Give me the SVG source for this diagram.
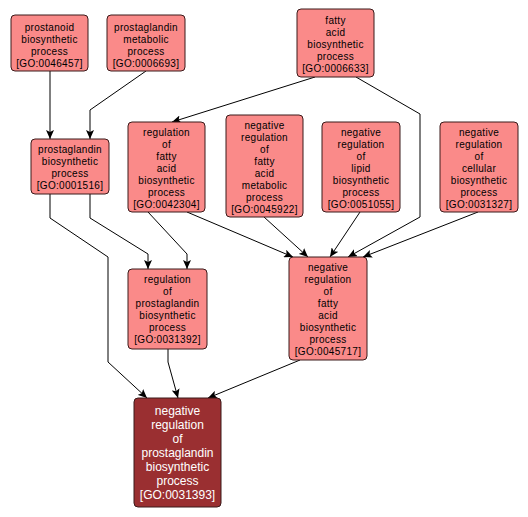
<svg xmlns="http://www.w3.org/2000/svg" width="528" height="517" viewBox="0 0 528 517">
<style>
.n rect{fill:#FA8A89;stroke:#3a1a1a;stroke-width:1}
.n text{font-family:"Liberation Sans",Arial,sans-serif;font-size:10px;letter-spacing:0.3px;fill:#000;text-anchor:middle}
.k rect{fill:#9A2F31;stroke:#3a1a1a;stroke-width:1}
.k text{font-family:"Liberation Sans",Arial,sans-serif;font-size:12px;fill:#fff;text-anchor:middle}
.e path{fill:none;stroke:#000;stroke-width:1;marker-end:url(#ah)}
</style>
<defs>
<marker id="ah" markerUnits="userSpaceOnUse" markerWidth="10" markerHeight="8" refX="9" refY="4" orient="auto">
<path d="M0,0 L9,4 L0,8 L2,4 z" fill="#000"/>
</marker>
</defs>
<rect width="528" height="517" fill="#fff"/>
<g id="edges" class="e">
<path d="M50,71 L50,139"/>
<path d="M146,71 L90,110 L90,139"/>
<path d="M315,77 L172,122"/>
<path d="M356,77 L420,114 L420,217 L348,257"/>
<path d="M50,194 L50,218 L108,257 L108,362 L147,398"/>
<path d="M90,194 L90,218 L148,254 L148,269"/>
<path d="M148,212 L187,254 L187,269"/>
<path d="M187,212 L293,257"/>
<path d="M264,217 L308,257"/>
<path d="M360,212 L330,257"/>
<path d="M478,212 L363,257"/>
<path d="M168,349 L168,362 L178,398"/>
<path d="M300,360 L208,398"/>
</g>
<g id="GO0046457" class="n"><rect x="11" y="15" width="77" height="56" rx="4"/>
<text x="49.5" y="31">prostanoid</text><text x="49.5" y="43">biosynthetic</text><text x="49.5" y="55">process</text><text x="49.5" y="67">[GO:0046457]</text></g>
<g id="GO0006693" class="n"><rect x="107" y="15" width="78" height="56" rx="4"/>
<text x="146" y="31">prostaglandin</text><text x="146" y="43">metabolic</text><text x="146" y="55">process</text><text x="146" y="67">[GO:0006693]</text></g>
<g id="GO0006633" class="n"><rect x="297" y="9" width="77" height="68" rx="4"/>
<text x="335.5" y="24">fatty</text><text x="335.5" y="36">acid</text><text x="335.5" y="48">biosynthetic</text><text x="335.5" y="60">process</text><text x="335.5" y="72">[GO:0006633]</text></g>
<g id="GO0001516" class="n"><rect x="31" y="139" width="78" height="55" rx="4"/>
<text x="70" y="153">prostaglandin</text><text x="70" y="165">biosynthetic</text><text x="70" y="177">process</text><text x="70" y="189">[GO:0001516]</text></g>
<g id="GO0042304" class="n"><rect x="128" y="122" width="77" height="90" rx="4"/>
<text x="166.5" y="136">regulation</text><text x="166.5" y="148">of</text><text x="166.5" y="160">fatty</text><text x="166.5" y="172">acid</text><text x="166.5" y="184">biosynthetic</text><text x="166.5" y="196">process</text><text x="166.5" y="208">[GO:0042304]</text></g>
<g id="GO0045922" class="n"><rect x="226" y="115" width="77" height="102" rx="4"/>
<text x="264.5" y="129">negative</text><text x="264.5" y="141">regulation</text><text x="264.5" y="153">of</text><text x="264.5" y="165">fatty</text><text x="264.5" y="177">acid</text><text x="264.5" y="189">metabolic</text><text x="264.5" y="201">process</text><text x="264.5" y="213">[GO:0045922]</text></g>
<g id="GO0051055" class="n"><rect x="322" y="122" width="78" height="90" rx="4"/>
<text x="361" y="136">negative</text><text x="361" y="148">regulation</text><text x="361" y="160">of</text><text x="361" y="172">lipid</text><text x="361" y="184">biosynthetic</text><text x="361" y="196">process</text><text x="361" y="208">[GO:0051055]</text></g>
<g id="GO0031327" class="n"><rect x="440" y="122" width="78" height="90" rx="4"/>
<text x="479" y="136">negative</text><text x="479" y="148">regulation</text><text x="479" y="160">of</text><text x="479" y="172">cellular</text><text x="479" y="184">biosynthetic</text><text x="479" y="196">process</text><text x="479" y="208">[GO:0031327]</text></g>
<g id="GO0031392" class="n"><rect x="128" y="269" width="79" height="80" rx="4"/>
<text x="167.5" y="283">regulation</text><text x="167.5" y="295">of</text><text x="167.5" y="307">prostaglandin</text><text x="167.5" y="319">biosynthetic</text><text x="167.5" y="331">process</text><text x="167.5" y="343">[GO:0031392]</text></g>
<g id="GO0045717" class="n"><rect x="289" y="257" width="78" height="103" rx="4"/>
<text x="328" y="271">negative</text><text x="328" y="283">regulation</text><text x="328" y="295">of</text><text x="328" y="307">fatty</text><text x="328" y="319">acid</text><text x="328" y="331">biosynthetic</text><text x="328" y="343">process</text><text x="328" y="355">[GO:0045717]</text></g>
<g id="GO0031393" class="k"><rect x="134" y="398" width="87" height="109" rx="4"/>
<text x="177.5" y="415">negative</text><text x="177.5" y="429">regulation</text><text x="177.5" y="443">of</text><text x="177.5" y="457">prostaglandin</text><text x="177.5" y="471">biosynthetic</text><text x="177.5" y="485">process</text><text x="177.5" y="499">[GO:0031393]</text></g>
</svg>
